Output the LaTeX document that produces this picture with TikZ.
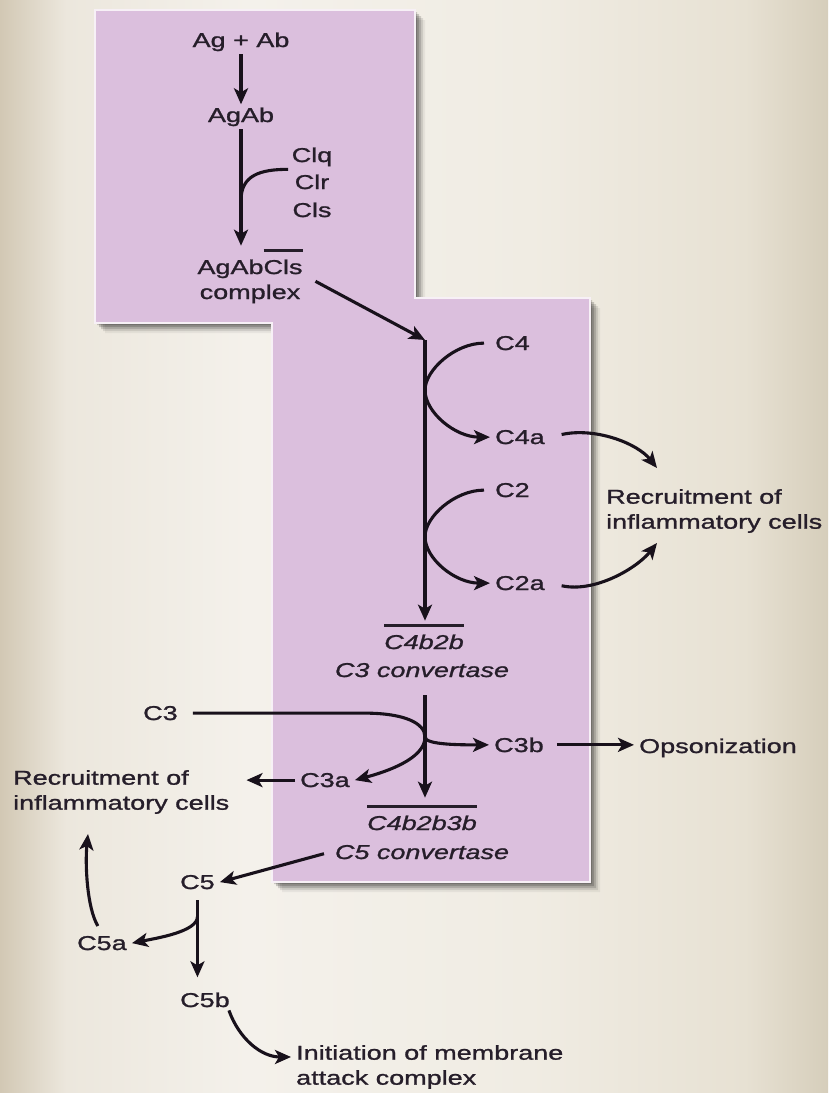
\documentclass[tikz,border=0pt]{standalone}
\usepackage{fontspec}
\setmainfont{Liberation Sans}[FakeStretch=1.35,FakeBold=1.2]
\usetikzlibrary{arrows.meta,calc}
\definecolor{bgA}{RGB}{210,200,180}
\definecolor{bgB}{RGB}{236,231,221}
\definecolor{bgC}{RGB}{244,241,235}
\definecolor{bgD}{RGB}{240,236,227}
\definecolor{bgE}{RGB}{231,225,211}
\definecolor{bgF}{RGB}{214,206,187}
\definecolor{boxpink}{RGB}{219,191,221}
\definecolor{boxedge}{RGB}{247,240,246}
\definecolor{txtc}{RGB}{38,30,42}
\definecolor{arrc}{RGB}{24,17,27}
\pgfdeclarehorizontalshading{bgshade}{100bp}{color(0bp)=(bgA); color(25bp)=(bgA); color(29bp)=(bgB); color(40bp)=(bgC); color(57bp)=(bgD); color(70bp)=(bgE); color(75bp)=(bgF); color(100bp)=(bgF)}
\newcommand\ovl[1]{\vbox{\hrule height 2.6pt\kern 8pt\hbox{#1}}}
\tikzset{
  txt/.style={font=\fontsize{20}{25}\selectfont, text=txtc, inner xsep=5pt, inner ysep=3pt},
  ln/.style={draw=arrc, line width=3.1pt},
  arr/.style={ln, -{Stealth[length=16pt,width=14pt,inset=4pt]}},
}
\begin{document}
\begin{tikzpicture}[x=1pt,y=1pt]
\useasboundingbox (0,0) rectangle (828,-1093);
\shade[shading=bgshade] (0,0) rectangle (828,-1093);
% shadow
\foreach \s/\o in {2/0.18,4/0.18,6/0.15,8/0.10,10/0.05}{
  \fill[black,opacity=\o] (95+\s,-10-\s) -- (415+\s,-10-\s) -- (415+\s,-298-\s) -- (590+\s,-298-\s) -- (590+\s,-882-\s) -- (272+\s,-882-\s) -- (272+\s,-323-\s) -- (95+\s,-323-\s) -- cycle;
}
\filldraw[fill=boxpink, draw=boxedge, line width=2.5pt] (95,-10) -- (415,-10) -- (415,-298) -- (590,-298) -- (590,-882) -- (272,-882) -- (272,-323) -- (95,-323) -- cycle;

% nodes
\node[txt,anchor=base] (agplus) at (241,-47) {Ag + Ab};
\node[txt,anchor=base] (agab) at (241,-122) {AgAb};
\node[txt,anchor=base] (c1q) at (312,-162) {Clq};
\node[txt,anchor=base] (c1r) at (312,-189) {Clr};
\node[txt,anchor=base] (c1s) at (312,-217) {Cls};
\node[txt,anchor=base] (cplx) at (250,-274) {AgAb\ovl{Cls}};
\node[txt,anchor=base] (cplxb) at (250,-299) {complex};
\coordinate (j1) at (425,-340);
\node[txt,anchor=base west] (c4) at (490,-350) {C4};
\node[txt,anchor=base west] (c4a) at (490,-444) {C4a};
\node[txt,anchor=base west] (c2) at (490,-497) {C2};
\node[txt,anchor=base west] (c2a) at (490,-590) {C2a};
\node[txt,anchor=west,align=left] (recR) at (601,-511) {Recruitment of\\inflammatory cells};
\node[txt,anchor=base] (c4b2b) at (424,-649) {\itshape\ovl{C4b2b}};
\node[txt,anchor=base] (c3conv) at (422,-677) {\itshape C3 convertase};
\node[txt,anchor=base west] (c3) at (138,-720) {C3};
\node[txt,anchor=base west] (c3b) at (489,-752) {C3b};
\node[txt,anchor=base west] (c3a) at (295,-787) {C3a};
\node[txt,anchor=base west] (opson) at (634,-753) {Opsonization};
\node[txt,anchor=west,align=left] (recL) at (8,-792) {Recruitment of\\inflammatory cells};
\node[txt,anchor=base] (c4b2b3b) at (422,-830) {\itshape\ovl{C4b2b3b}};
\node[txt,anchor=base] (c5cv) at (422,-859) {\itshape C5 convertase};
\node[txt,anchor=base west] (c5) at (175,-889) {C5};
\node[txt,anchor=base west] (c5a) at (72,-950) {C5a};
\node[txt,anchor=base west] (c5b) at (175,-1007) {C5b};
\node[txt,anchor=west,align=left] (init) at (291,-1067) {Initiation of membrane\\attack complex};

% top box connectors
\draw[arr] (agplus) -- (agab);
\draw[arr] (agab.south) -- (agab.south |- cplx.north);
\coordinate (j0) at ($(agab.south)!0.61!(agab.south |- cplx.north)$);
\draw[ln] ($(c1q.west)!0.5!(c1r.west)$) .. controls +(-28,0) and +(0,25) .. (j0);
\draw[arr] ([xshift=10pt]cplxb.north east) -- (j1);
\draw[arr] (j1) -- (j1 |- c4b2b.north);

% C4 and C2
\coordinate (m4) at ($(c4.west)!0.5!(c4a.west)$);
\coordinate (m2) at ($(c2.west)!0.5!(c2a.west)$);
\draw[arr, shorten <=6pt] (c4.west) .. controls +(-35,0) and +(0,20) .. (j1 |- m4) .. controls +(0,-22) and +(-35,0) .. (c4a.west);
\draw[arr, shorten <=6pt] (c2.west) .. controls +(-35,0) and +(0,20) .. (j1 |- m2) .. controls +(0,-22) and +(-35,0) .. (c2a.west);
\draw[arr, shorten <=12pt] (c4a.east) .. controls +(45,10) and +(-20,25) .. ([shift={(56pt,18pt)}]recR.north west);
\draw[arr, shorten <=12pt] (c2a.east) .. controls +(45,-10) and +(-20,-25) .. ([shift={(56pt,-7pt)}]recR.south west);

% C3
\draw[arr, shorten <=15pt, shorten >=4pt] (j1 |- c3conv.south) -- (j1 |- c4b2b3b.north);
\coordinate (j3) at ($(j1 |- c3.east)+(0,-24)$);
\draw[ln, shorten <=10pt] (c3.east) -- ($(c3.east)!0.75!(j3 |- c3.east)$) .. controls +(40,0) and +(0,14) .. (j3);
\draw[arr] (j3) .. controls +(0,-8) and +(-25,0) .. (c3b.west);
\draw[arr] (j3) .. controls +(0,-22) and +(30,8) .. (c3a.east);
\draw[arr, shorten <=8pt] (c3b.east) -- (c3b.east -| opson.west);
\draw[arr, shorten >=12pt] (c3a.west) -- (c3a.west -| recL.east);

% C5
\draw[arr, shorten <=6pt] (c5cv.west) -- (c5.east);
\draw[arr, shorten <=8pt, shorten >=12pt] (c5.south) -- (c5.south |- c5b.north);
\coordinate (j5) at ($(c5.south)!0.25!(c5.south |- c5b.north)$);
\draw[arr] (j5) .. controls +(0,-15) and +(25,5) .. (c5a.east);
\draw[arr, shorten <=8pt] (c5a.north) .. controls +(-15,25) and +(-3,-30) .. ([shift={(80pt,-17pt)}]recL.south west);
\draw[arr] ([xshift=-6pt]c5b.south east) .. controls +(10,-28) and +(-30,0) .. ([yshift=-15pt]init.north west);
\end{tikzpicture}
\end{document}
